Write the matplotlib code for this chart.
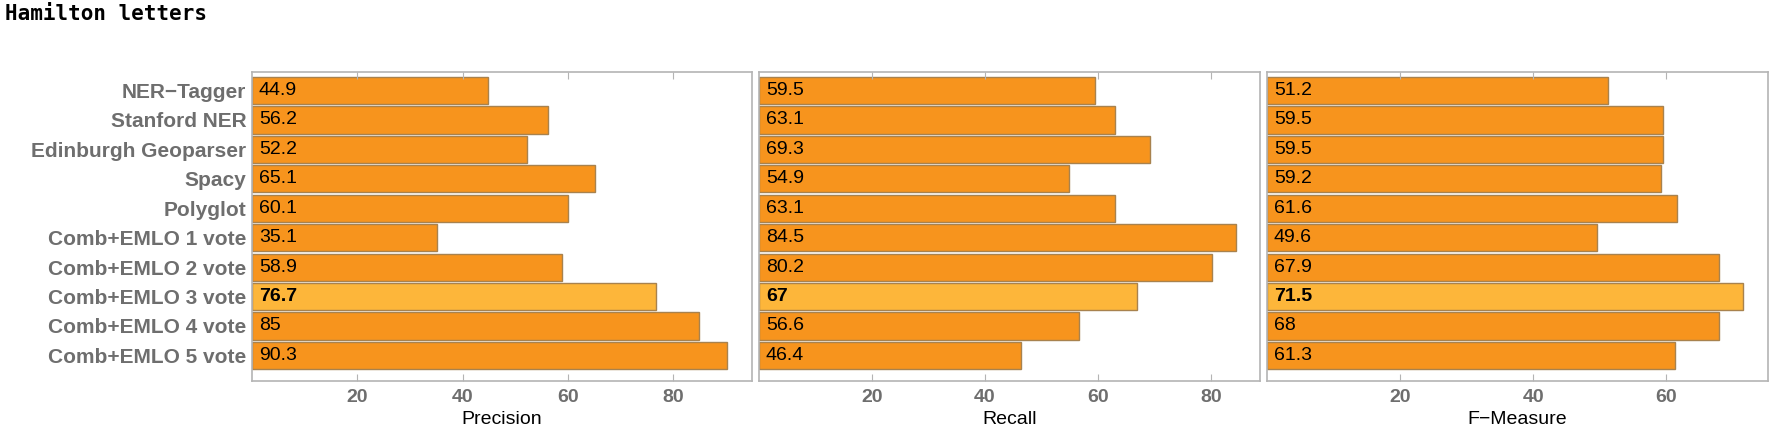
import matplotlib.pyplot as plt

plt.rcParams["font.family"] = ["Liberation Sans", "DejaVu Sans"]

methods = ["NER\u2212Tagger", "Stanford NER", "Edinburgh Geoparser", "Spacy", "Polyglot",
           "Comb+EMLO 1 vote", "Comb+EMLO 2 vote", "Comb+EMLO 3 vote",
           "Comb+EMLO 4 vote", "Comb+EMLO 5 vote"]
precision = [44.9, 56.2, 52.2, 65.1, 60.1, 35.1, 58.9, 76.7, 85, 90.3]
recall = [59.5, 63.1, 69.3, 54.9, 63.1, 84.5, 80.2, 67, 56.6, 46.4]
fmeasure = [51.2, 59.5, 59.5, 59.2, 61.6, 49.6, 67.9, 71.5, 68, 61.3]
panel_names = ["Precision", "Recall", "F\u2212Measure"]
highlight = 7

COLOR_BAR = "#F7941D"
COLOR_HI = "#FDB63A"
COLOR_EDGE = "#A8824E"
COLOR_FRAME = "#B4B4B4"
COLOR_TICK = "#6E6E6E"

fig = plt.figure(figsize=(17.72, 4.37), dpi=100)
W, H = 1772, 437
# panel boxes in pixels: left, right, x max
panels = [(252, 752, 95.0), (759, 1260, 88.7), (1267, 1768, 75.3)]
top, bottom = 72, 381

for k, (vals, name, (l, r, xmax)) in enumerate(zip([precision, recall, fmeasure], panel_names, panels)):
    ax = fig.add_axes([l / W, 1 - bottom / H, (r - l) / W, (bottom - top) / H])
    colors = [COLOR_HI if i == highlight else COLOR_BAR for i in range(len(vals))]
    ax.barh(range(len(vals)), vals, height=0.92, color=colors, edgecolor=COLOR_EDGE, linewidth=1.0)
    ax.set_xlim(0, xmax)
    ax.set_ylim(9.87, -0.63)
    for i, v in enumerate(vals):
        ax.annotate(f"{v:g}", (0, i), xytext=(5, 0), textcoords="offset points",
                    va="center", ha="left", fontsize=14, color="black",
                    fontweight="bold" if i == highlight else "normal")
    ax.set_xticks([20, 40, 60] + ([80] if xmax > 80 else []))
    ax.tick_params(axis="x", direction="in", length=5, color=COLOR_FRAME, top=True,
                   labelsize=14, labelcolor=COLOR_TICK, pad=6)
    for lab in ax.get_xticklabels():
        lab.set_fontweight("bold")
    if k == 0:
        ax.set_yticks(range(len(methods)))
        ax.set_yticklabels(methods, fontsize=15, fontweight="bold", color=COLOR_TICK)
        ax.tick_params(axis="y", length=0, pad=4)
    else:
        ax.set_yticks([])
    for s in ax.spines.values():
        s.set_color(COLOR_FRAME)
        s.set_linewidth(1.2)
    ax.set_xlabel(name, fontsize=14, labelpad=3)

fig.text(5 / W, 1 - 14 / H, "Hamilton letters", family="DejaVu Sans Mono",
         fontweight="bold", fontsize=15, va="center", ha="left")

fig.savefig("out.png", dpi=100)
